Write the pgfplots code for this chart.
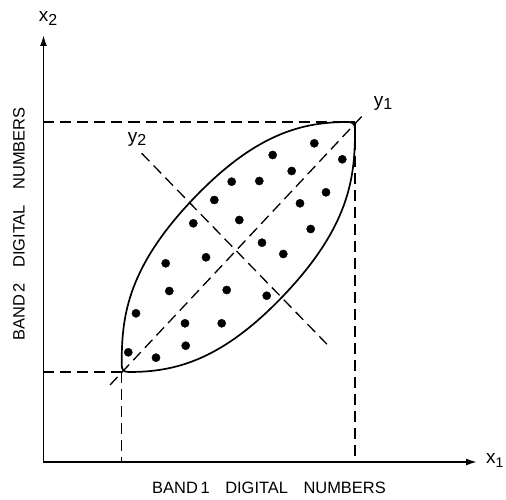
\documentclass[border=0pt]{standalone}
\usepackage{pgfplots}
\pgfplotsset{compat=1.18}
\usepackage{fontspec}
\setmainfont{Liberation Sans}
\usetikzlibrary{arrows.meta}

\begin{document}
\begin{tikzpicture}
\begin{axis}[
  scale only axis,
  width=433.5bp, height=427bp,
  xmin=43.5, xmax=477, ymin=38, ymax=465,
  axis lines=left,
  axis line style={line width=1.7bp, -{Latex[length=11bp,width=7bp]}},
  xtick=\empty, ytick=\empty,
  clip=false,
]
% bounding corners of the whole figure
\path (axis cs:0,0) coordinate (bbsw) (axis cs:506,500) coordinate (bbne);

% guide lines marking the range of each band
\pgfplotsset{guide/.style={black, line width=1.3bp, dash pattern=on 11bp off 6bp}}
\addplot[guide] coordinates {(43.5,378) (355,378)};
\addplot[guide] coordinates {(355,378) (355,38)};
\addplot[guide] coordinates {(43.5,128) (121.7,128)};
\addplot[guide] coordinates {(121.7,128) (121.7,38)};

% principal component axes
\addplot[guide] coordinates {(110,115) (365,387)};
\addplot[guide] coordinates {(141.7,346.7) (327.7,155)};

% envelope of the scatter: rounded tips in the corners of the band ranges
\draw[black, line width=1.7bp]
  (axis cs:348,378)
    .. controls (axis cs:303,378) and (axis cs:255.1,367.3) .. (axis cs:190.2,297.9)
    .. controls (axis cs:125.3,228.5) and (axis cs:121.7,180) .. (axis cs:121.7,135)
    .. controls (axis cs:121.7,130.5) and (axis cs:123.5,128) .. (axis cs:128.7,128)
    .. controls (axis cs:173.7,128) and (axis cs:221.7,138.3) .. (axis cs:286.6,207.7)
    .. controls (axis cs:351.5,277.1) and (axis cs:355,326) .. (axis cs:355,371)
    .. controls (axis cs:355,375.5) and (axis cs:353.2,378) .. cycle;

% pixel values in band 1 / band 2
\addplot[only marks, mark=*, mark size=4.1bp, black] coordinates {
  (314.3,356.7) (272.7,345) (342.3,340.7) (291.7,329) (231.7,318.3)
  (259.3,319) (326,307.7) (214.3,300) (300,296.7) (193.3,276.7)
  (239.3,280) (310.7,271) (262,257.3) (206,242.7) (283.3,246)
  (165.7,236.7) (169.3,209) (226.7,210) (266.7,204.3) (136,186.7)
  (185,176.7) (221.7,176.7) (185.7,154.3) (128.3,147.7) (156,142.3)
};

% labels
\node[font=\fontsize{19}{19}\selectfont] at (axis cs:48,481)
  {x\raisebox{-4bp}{\fontsize{16}{16}\selectfont 2}};
\node[font=\fontsize{19}{19}\selectfont, anchor=west, inner sep=0pt] at (axis cs:486,40)
  {x\raisebox{-4bp}{\fontsize{14}{14}\selectfont 1}};
\node[font=\fontsize{19}{19}\selectfont] at (axis cs:383,397)
  {y\raisebox{-3bp}{\fontsize{16}{16}\selectfont 1}};
\node[font=\fontsize{19}{19}\selectfont] at (axis cs:137,361)
  {y\raisebox{-3bp}{\fontsize{16}{16}\selectfont 2}};
\node[font=\fontsize{16.5}{17}\selectfont] at (axis cs:269,12)
  {BAND\,1\enspace\, DIGITAL\enspace\, NUMBERS};
\node[font=\fontsize{16.5}{17}\selectfont, rotate=90] at (axis cs:19,276)
  {BAND\,2\enspace\, DIGITAL\enspace\, NUMBERS};
\end{axis}
\pgfresetboundingbox
\path[use as bounding box] (bbsw) rectangle (bbne);
\end{tikzpicture}
\end{document}
